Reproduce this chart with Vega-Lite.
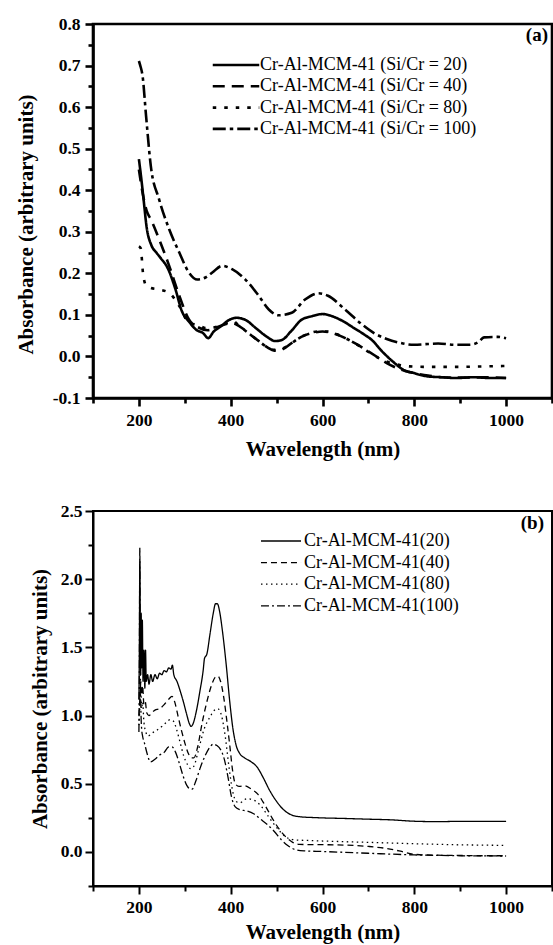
{
  "$schema": "https://vega.github.io/schema/vega-lite/v6.json",
  "background": "white",
  "padding": {"left": 13, "top": 13, "right": 0, "bottom": 0},
  "bounds": "flush",
  "spacing": 113,
  "config": {
    "font": "Liberation Serif",
    "axis": {"domainColor": "black", "tickColor": "black", "labelColor": "black", "titleColor": "black", "labelFont": "Liberation Serif", "titleFont": "Liberation Serif", "labelFontWeight": "bold", "titleFontWeight": "bold", "grid": false, "labelFlush": false, "labelOverlap": false, "labelFontSize": 17.5, "titleFontSize": 21},
    "title": {"font": "Liberation Serif", "fontWeight": "bold", "fontSize": 19, "color": "black"},
    "legend": {"labelFont": "Liberation Serif", "labelFontSize": 18, "labelColor": "black", "labelFontWeight": "normal", "labelLimit": 0, "padding": 0}
  },
  "datasets": {
    "a": [
      {"sample": 20, "nm": 200, "abs": 0.475}, {"sample": 20, "nm": 205, "abs": 0.43}, {"sample": 20, "nm": 210, "abs": 0.38}, {"sample": 20, "nm": 217, "abs": 0.31}, {"sample": 20, "nm": 227, "abs": 0.268}, {"sample": 20, "nm": 238, "abs": 0.25}, {"sample": 20, "nm": 248, "abs": 0.236}, {"sample": 20, "nm": 263, "abs": 0.212}, {"sample": 20, "nm": 279, "abs": 0.164}, {"sample": 20, "nm": 294, "abs": 0.108}, {"sample": 20, "nm": 309, "abs": 0.084}, {"sample": 20, "nm": 325, "abs": 0.064}, {"sample": 20, "nm": 340, "abs": 0.056}, {"sample": 20, "nm": 351, "abs": 0.044}, {"sample": 20, "nm": 363, "abs": 0.06}, {"sample": 20, "nm": 378, "abs": 0.072}, {"sample": 20, "nm": 397, "abs": 0.088}, {"sample": 20, "nm": 413, "abs": 0.093}, {"sample": 20, "nm": 432, "abs": 0.088}, {"sample": 20, "nm": 455, "abs": 0.068}, {"sample": 20, "nm": 478, "abs": 0.048}, {"sample": 20, "nm": 497, "abs": 0.037}, {"sample": 20, "nm": 512, "abs": 0.04}, {"sample": 20, "nm": 531, "abs": 0.06}, {"sample": 20, "nm": 554, "abs": 0.088}, {"sample": 20, "nm": 577, "abs": 0.097}, {"sample": 20, "nm": 600, "abs": 0.102}, {"sample": 20, "nm": 623, "abs": 0.096}, {"sample": 20, "nm": 646, "abs": 0.084}, {"sample": 20, "nm": 669, "abs": 0.068}, {"sample": 20, "nm": 692, "abs": 0.052}, {"sample": 20, "nm": 707, "abs": 0.04}, {"sample": 20, "nm": 730, "abs": 0.012}, {"sample": 20, "nm": 753, "abs": -0.012}, {"sample": 20, "nm": 776, "abs": -0.032}, {"sample": 20, "nm": 799, "abs": -0.04}, {"sample": 20, "nm": 829, "abs": -0.048}, {"sample": 20, "nm": 860, "abs": -0.05}, {"sample": 20, "nm": 891, "abs": -0.052}, {"sample": 20, "nm": 929, "abs": -0.05}, {"sample": 20, "nm": 967, "abs": -0.052}, {"sample": 20, "nm": 1000, "abs": -0.052},
      {"sample": 40, "nm": 200, "abs": 0.45}, {"sample": 40, "nm": 208, "abs": 0.394}, {"sample": 40, "nm": 217, "abs": 0.35}, {"sample": 40, "nm": 226, "abs": 0.33}, {"sample": 40, "nm": 244, "abs": 0.282}, {"sample": 40, "nm": 266, "abs": 0.218}, {"sample": 40, "nm": 288, "abs": 0.146}, {"sample": 40, "nm": 309, "abs": 0.089}, {"sample": 40, "nm": 331, "abs": 0.069}, {"sample": 40, "nm": 350, "abs": 0.063}, {"sample": 40, "nm": 370, "abs": 0.07}, {"sample": 40, "nm": 390, "abs": 0.078}, {"sample": 40, "nm": 405, "abs": 0.08}, {"sample": 40, "nm": 420, "abs": 0.072}, {"sample": 40, "nm": 440, "abs": 0.055}, {"sample": 40, "nm": 460, "abs": 0.038}, {"sample": 40, "nm": 480, "abs": 0.022}, {"sample": 40, "nm": 495, "abs": 0.014}, {"sample": 40, "nm": 505, "abs": 0.014}, {"sample": 40, "nm": 520, "abs": 0.022}, {"sample": 40, "nm": 540, "abs": 0.038}, {"sample": 40, "nm": 560, "abs": 0.05}, {"sample": 40, "nm": 580, "abs": 0.057}, {"sample": 40, "nm": 600, "abs": 0.06}, {"sample": 40, "nm": 620, "abs": 0.057}, {"sample": 40, "nm": 640, "abs": 0.049}, {"sample": 40, "nm": 660, "abs": 0.038}, {"sample": 40, "nm": 680, "abs": 0.026}, {"sample": 40, "nm": 700, "abs": 0.012}, {"sample": 40, "nm": 720, "abs": -0.002}, {"sample": 40, "nm": 740, "abs": -0.016}, {"sample": 40, "nm": 760, "abs": -0.027}, {"sample": 40, "nm": 780, "abs": -0.035}, {"sample": 40, "nm": 800, "abs": -0.04}, {"sample": 40, "nm": 830, "abs": -0.046}, {"sample": 40, "nm": 860, "abs": -0.05}, {"sample": 40, "nm": 900, "abs": -0.051}, {"sample": 40, "nm": 950, "abs": -0.05}, {"sample": 40, "nm": 1000, "abs": -0.052},
      {"sample": 80, "nm": 200, "abs": 0.265}, {"sample": 80, "nm": 204, "abs": 0.26}, {"sample": 80, "nm": 209, "abs": 0.2}, {"sample": 80, "nm": 215, "abs": 0.172}, {"sample": 80, "nm": 225, "abs": 0.165}, {"sample": 80, "nm": 244, "abs": 0.161}, {"sample": 80, "nm": 266, "abs": 0.153}, {"sample": 80, "nm": 288, "abs": 0.121}, {"sample": 80, "nm": 309, "abs": 0.081}, {"sample": 80, "nm": 330, "abs": 0.075}, {"sample": 80, "nm": 346, "abs": 0.068}, {"sample": 80, "nm": 365, "abs": 0.07}, {"sample": 80, "nm": 385, "abs": 0.078}, {"sample": 80, "nm": 405, "abs": 0.085}, {"sample": 80, "nm": 420, "abs": 0.072}, {"sample": 80, "nm": 440, "abs": 0.055}, {"sample": 80, "nm": 460, "abs": 0.038}, {"sample": 80, "nm": 480, "abs": 0.022}, {"sample": 80, "nm": 495, "abs": 0.016}, {"sample": 80, "nm": 510, "abs": 0.018}, {"sample": 80, "nm": 530, "abs": 0.03}, {"sample": 80, "nm": 550, "abs": 0.045}, {"sample": 80, "nm": 570, "abs": 0.055}, {"sample": 80, "nm": 590, "abs": 0.06}, {"sample": 80, "nm": 610, "abs": 0.06}, {"sample": 80, "nm": 630, "abs": 0.054}, {"sample": 80, "nm": 650, "abs": 0.044}, {"sample": 80, "nm": 670, "abs": 0.032}, {"sample": 80, "nm": 690, "abs": 0.018}, {"sample": 80, "nm": 710, "abs": 0.004}, {"sample": 80, "nm": 730, "abs": -0.008}, {"sample": 80, "nm": 750, "abs": -0.016}, {"sample": 80, "nm": 770, "abs": -0.021}, {"sample": 80, "nm": 790, "abs": -0.024}, {"sample": 80, "nm": 820, "abs": -0.025}, {"sample": 80, "nm": 860, "abs": -0.025}, {"sample": 80, "nm": 900, "abs": -0.025}, {"sample": 80, "nm": 950, "abs": -0.024}, {"sample": 80, "nm": 1000, "abs": -0.023},
      {"sample": 100, "nm": 200, "abs": 0.711}, {"sample": 100, "nm": 203, "abs": 0.7}, {"sample": 100, "nm": 208, "abs": 0.675}, {"sample": 100, "nm": 215.6, "abs": 0.579}, {"sample": 100, "nm": 226, "abs": 0.458}, {"sample": 100, "nm": 244, "abs": 0.378}, {"sample": 100, "nm": 266, "abs": 0.306}, {"sample": 100, "nm": 288, "abs": 0.25}, {"sample": 100, "nm": 309, "abs": 0.202}, {"sample": 100, "nm": 327, "abs": 0.185}, {"sample": 100, "nm": 345, "abs": 0.19}, {"sample": 100, "nm": 360, "abs": 0.202}, {"sample": 100, "nm": 381, "abs": 0.218}, {"sample": 100, "nm": 403, "abs": 0.21}, {"sample": 100, "nm": 432, "abs": 0.185}, {"sample": 100, "nm": 461, "abs": 0.146}, {"sample": 100, "nm": 483, "abs": 0.113}, {"sample": 100, "nm": 504, "abs": 0.099}, {"sample": 100, "nm": 533, "abs": 0.105}, {"sample": 100, "nm": 562, "abs": 0.137}, {"sample": 100, "nm": 591, "abs": 0.152}, {"sample": 100, "nm": 612, "abs": 0.146}, {"sample": 100, "nm": 649, "abs": 0.113}, {"sample": 100, "nm": 685, "abs": 0.078}, {"sample": 100, "nm": 714, "abs": 0.055}, {"sample": 100, "nm": 740, "abs": 0.042}, {"sample": 100, "nm": 768, "abs": 0.033}, {"sample": 100, "nm": 799, "abs": 0.028}, {"sample": 100, "nm": 830, "abs": 0.03}, {"sample": 100, "nm": 852, "abs": 0.031}, {"sample": 100, "nm": 890, "abs": 0.028}, {"sample": 100, "nm": 921, "abs": 0.028}, {"sample": 100, "nm": 940, "abs": 0.035}, {"sample": 100, "nm": 952, "abs": 0.046}, {"sample": 100, "nm": 982, "abs": 0.047}, {"sample": 100, "nm": 1000, "abs": 0.044}
    ],
    "b": [
      {"sample": 20, "nm": 200, "abs": 1.12}, {"sample": 20, "nm": 201, "abs": 1.5}, {"sample": 20, "nm": 202, "abs": 2.13}, {"sample": 20, "nm": 203, "abs": 1.6}, {"sample": 20, "nm": 204, "abs": 1.3}, {"sample": 20, "nm": 205, "abs": 1.75}, {"sample": 20, "nm": 206, "abs": 1.35}, {"sample": 20, "nm": 207.5, "abs": 1.7}, {"sample": 20, "nm": 209, "abs": 1.25}, {"sample": 20, "nm": 211, "abs": 1.48}, {"sample": 20, "nm": 213, "abs": 1.2}, {"sample": 20, "nm": 214.5, "abs": 1.48}, {"sample": 20, "nm": 216, "abs": 1.25}, {"sample": 20, "nm": 219, "abs": 1.3}, {"sample": 20, "nm": 222, "abs": 1.23}, {"sample": 20, "nm": 226, "abs": 1.3}, {"sample": 20, "nm": 230, "abs": 1.25}, {"sample": 20, "nm": 235, "abs": 1.3}, {"sample": 20, "nm": 240, "abs": 1.27}, {"sample": 20, "nm": 245, "abs": 1.31}, {"sample": 20, "nm": 250, "abs": 1.3}, {"sample": 20, "nm": 255, "abs": 1.33}, {"sample": 20, "nm": 260, "abs": 1.32}, {"sample": 20, "nm": 265, "abs": 1.35}, {"sample": 20, "nm": 270, "abs": 1.34}, {"sample": 20, "nm": 273, "abs": 1.37}, {"sample": 20, "nm": 276, "abs": 1.3}, {"sample": 20, "nm": 283, "abs": 1.25}, {"sample": 20, "nm": 290, "abs": 1.18}, {"sample": 20, "nm": 297, "abs": 1.1}, {"sample": 20, "nm": 304, "abs": 1.01}, {"sample": 20, "nm": 310, "abs": 0.94}, {"sample": 20, "nm": 314, "abs": 0.92}, {"sample": 20, "nm": 318, "abs": 0.94}, {"sample": 20, "nm": 325, "abs": 1.03}, {"sample": 20, "nm": 333, "abs": 1.18}, {"sample": 20, "nm": 340, "abs": 1.33}, {"sample": 20, "nm": 343, "abs": 1.42}, {"sample": 20, "nm": 348, "abs": 1.45}, {"sample": 20, "nm": 355, "abs": 1.6}, {"sample": 20, "nm": 362, "abs": 1.75}, {"sample": 20, "nm": 367, "abs": 1.82}, {"sample": 20, "nm": 371, "abs": 1.82}, {"sample": 20, "nm": 376, "abs": 1.76}, {"sample": 20, "nm": 382, "abs": 1.62}, {"sample": 20, "nm": 390, "abs": 1.38}, {"sample": 20, "nm": 398, "abs": 1.1}, {"sample": 20, "nm": 405, "abs": 0.9}, {"sample": 20, "nm": 412, "abs": 0.78}, {"sample": 20, "nm": 420, "abs": 0.72}, {"sample": 20, "nm": 430, "abs": 0.69}, {"sample": 20, "nm": 445, "abs": 0.66}, {"sample": 20, "nm": 458, "abs": 0.62}, {"sample": 20, "nm": 470, "abs": 0.55}, {"sample": 20, "nm": 485, "abs": 0.45}, {"sample": 20, "nm": 500, "abs": 0.37}, {"sample": 20, "nm": 515, "abs": 0.31}, {"sample": 20, "nm": 530, "abs": 0.275}, {"sample": 20, "nm": 550, "abs": 0.258}, {"sample": 20, "nm": 580, "abs": 0.252}, {"sample": 20, "nm": 650, "abs": 0.245}, {"sample": 20, "nm": 700, "abs": 0.24}, {"sample": 20, "nm": 750, "abs": 0.235}, {"sample": 20, "nm": 800, "abs": 0.225}, {"sample": 20, "nm": 850, "abs": 0.222}, {"sample": 20, "nm": 900, "abs": 0.224}, {"sample": 20, "nm": 950, "abs": 0.224}, {"sample": 20, "nm": 1000, "abs": 0.224},
      {"sample": 40, "nm": 200, "abs": 1.0}, {"sample": 40, "nm": 202, "abs": 1.12}, {"sample": 40, "nm": 204, "abs": 1.25}, {"sample": 40, "nm": 206, "abs": 1.15}, {"sample": 40, "nm": 208, "abs": 1.22}, {"sample": 40, "nm": 211, "abs": 1.08}, {"sample": 40, "nm": 214, "abs": 1.1}, {"sample": 40, "nm": 217, "abs": 1.02}, {"sample": 40, "nm": 222, "abs": 1.0}, {"sample": 40, "nm": 228, "abs": 1.02}, {"sample": 40, "nm": 235, "abs": 1.04}, {"sample": 40, "nm": 245, "abs": 1.05}, {"sample": 40, "nm": 255, "abs": 1.08}, {"sample": 40, "nm": 265, "abs": 1.12}, {"sample": 40, "nm": 272, "abs": 1.14}, {"sample": 40, "nm": 278, "abs": 1.1}, {"sample": 40, "nm": 285, "abs": 1.0}, {"sample": 40, "nm": 292, "abs": 0.9}, {"sample": 40, "nm": 300, "abs": 0.8}, {"sample": 40, "nm": 308, "abs": 0.72}, {"sample": 40, "nm": 315, "abs": 0.69}, {"sample": 40, "nm": 320, "abs": 0.69}, {"sample": 40, "nm": 328, "abs": 0.77}, {"sample": 40, "nm": 338, "abs": 0.95}, {"sample": 40, "nm": 348, "abs": 1.1}, {"sample": 40, "nm": 358, "abs": 1.22}, {"sample": 40, "nm": 366, "abs": 1.28}, {"sample": 40, "nm": 372, "abs": 1.29}, {"sample": 40, "nm": 378, "abs": 1.25}, {"sample": 40, "nm": 385, "abs": 1.13}, {"sample": 40, "nm": 392, "abs": 0.95}, {"sample": 40, "nm": 398, "abs": 0.78}, {"sample": 40, "nm": 404, "abs": 0.6}, {"sample": 40, "nm": 410, "abs": 0.5}, {"sample": 40, "nm": 418, "abs": 0.48}, {"sample": 40, "nm": 430, "abs": 0.485}, {"sample": 40, "nm": 445, "abs": 0.46}, {"sample": 40, "nm": 460, "abs": 0.42}, {"sample": 40, "nm": 475, "abs": 0.34}, {"sample": 40, "nm": 490, "abs": 0.25}, {"sample": 40, "nm": 505, "abs": 0.17}, {"sample": 40, "nm": 520, "abs": 0.11}, {"sample": 40, "nm": 535, "abs": 0.07}, {"sample": 40, "nm": 550, "abs": 0.055}, {"sample": 40, "nm": 600, "abs": 0.053}, {"sample": 40, "nm": 650, "abs": 0.05}, {"sample": 40, "nm": 700, "abs": 0.04}, {"sample": 40, "nm": 740, "abs": 0.025}, {"sample": 40, "nm": 770, "abs": 0.005}, {"sample": 40, "nm": 800, "abs": -0.018}, {"sample": 40, "nm": 850, "abs": -0.024}, {"sample": 40, "nm": 900, "abs": -0.026}, {"sample": 40, "nm": 950, "abs": -0.028}, {"sample": 40, "nm": 1000, "abs": -0.028},
      {"sample": 80, "nm": 200, "abs": 0.93}, {"sample": 80, "nm": 202, "abs": 1.05}, {"sample": 80, "nm": 204, "abs": 1.2}, {"sample": 80, "nm": 206, "abs": 1.05}, {"sample": 80, "nm": 208, "abs": 1.1}, {"sample": 80, "nm": 211, "abs": 0.95}, {"sample": 80, "nm": 215, "abs": 0.88}, {"sample": 80, "nm": 220, "abs": 0.85}, {"sample": 80, "nm": 228, "abs": 0.87}, {"sample": 80, "nm": 238, "abs": 0.89}, {"sample": 80, "nm": 250, "abs": 0.92}, {"sample": 80, "nm": 260, "abs": 0.95}, {"sample": 80, "nm": 268, "abs": 0.97}, {"sample": 80, "nm": 275, "abs": 0.96}, {"sample": 80, "nm": 282, "abs": 0.9}, {"sample": 80, "nm": 290, "abs": 0.8}, {"sample": 80, "nm": 298, "abs": 0.7}, {"sample": 80, "nm": 306, "abs": 0.64}, {"sample": 80, "nm": 313, "abs": 0.61}, {"sample": 80, "nm": 320, "abs": 0.63}, {"sample": 80, "nm": 330, "abs": 0.75}, {"sample": 80, "nm": 342, "abs": 0.9}, {"sample": 80, "nm": 355, "abs": 0.99}, {"sample": 80, "nm": 365, "abs": 1.04}, {"sample": 80, "nm": 372, "abs": 1.05}, {"sample": 80, "nm": 380, "abs": 1.0}, {"sample": 80, "nm": 388, "abs": 0.85}, {"sample": 80, "nm": 396, "abs": 0.63}, {"sample": 80, "nm": 404, "abs": 0.45}, {"sample": 80, "nm": 412, "abs": 0.37}, {"sample": 80, "nm": 420, "abs": 0.36}, {"sample": 80, "nm": 435, "abs": 0.39}, {"sample": 80, "nm": 450, "abs": 0.38}, {"sample": 80, "nm": 465, "abs": 0.34}, {"sample": 80, "nm": 480, "abs": 0.27}, {"sample": 80, "nm": 495, "abs": 0.2}, {"sample": 80, "nm": 510, "abs": 0.14}, {"sample": 80, "nm": 525, "abs": 0.1}, {"sample": 80, "nm": 540, "abs": 0.088}, {"sample": 80, "nm": 560, "abs": 0.085}, {"sample": 80, "nm": 600, "abs": 0.08}, {"sample": 80, "nm": 700, "abs": 0.07}, {"sample": 80, "nm": 800, "abs": 0.06}, {"sample": 80, "nm": 900, "abs": 0.052}, {"sample": 80, "nm": 1000, "abs": 0.048},
      {"sample": 100, "nm": 200, "abs": 0.88}, {"sample": 100, "nm": 201, "abs": 1.3}, {"sample": 100, "nm": 202, "abs": 2.23}, {"sample": 100, "nm": 203, "abs": 1.4}, {"sample": 100, "nm": 204, "abs": 1.1}, {"sample": 100, "nm": 206, "abs": 0.9}, {"sample": 100, "nm": 208, "abs": 0.85}, {"sample": 100, "nm": 212, "abs": 0.8}, {"sample": 100, "nm": 218, "abs": 0.72}, {"sample": 100, "nm": 225, "abs": 0.66}, {"sample": 100, "nm": 235, "abs": 0.68}, {"sample": 100, "nm": 245, "abs": 0.71}, {"sample": 100, "nm": 255, "abs": 0.73}, {"sample": 100, "nm": 265, "abs": 0.77}, {"sample": 100, "nm": 272, "abs": 0.77}, {"sample": 100, "nm": 280, "abs": 0.73}, {"sample": 100, "nm": 288, "abs": 0.65}, {"sample": 100, "nm": 296, "abs": 0.56}, {"sample": 100, "nm": 304, "abs": 0.49}, {"sample": 100, "nm": 310, "abs": 0.465}, {"sample": 100, "nm": 316, "abs": 0.46}, {"sample": 100, "nm": 324, "abs": 0.52}, {"sample": 100, "nm": 334, "abs": 0.62}, {"sample": 100, "nm": 345, "abs": 0.71}, {"sample": 100, "nm": 355, "abs": 0.77}, {"sample": 100, "nm": 362, "abs": 0.79}, {"sample": 100, "nm": 370, "abs": 0.78}, {"sample": 100, "nm": 378, "abs": 0.75}, {"sample": 100, "nm": 386, "abs": 0.68}, {"sample": 100, "nm": 394, "abs": 0.55}, {"sample": 100, "nm": 402, "abs": 0.4}, {"sample": 100, "nm": 410, "abs": 0.33}, {"sample": 100, "nm": 420, "abs": 0.31}, {"sample": 100, "nm": 435, "abs": 0.3}, {"sample": 100, "nm": 450, "abs": 0.28}, {"sample": 100, "nm": 465, "abs": 0.24}, {"sample": 100, "nm": 480, "abs": 0.2}, {"sample": 100, "nm": 495, "abs": 0.15}, {"sample": 100, "nm": 510, "abs": 0.09}, {"sample": 100, "nm": 525, "abs": 0.045}, {"sample": 100, "nm": 540, "abs": 0.018}, {"sample": 100, "nm": 560, "abs": 0.008}, {"sample": 100, "nm": 600, "abs": 0.003}, {"sample": 100, "nm": 700, "abs": -0.01}, {"sample": 100, "nm": 800, "abs": -0.022}, {"sample": 100, "nm": 900, "abs": -0.028}, {"sample": 100, "nm": 1000, "abs": -0.03}
    ]
  },
  "resolve": {"scale": {"strokeDash": "independent"}, "legend": {"strokeDash": "independent"}},
  "vconcat": [
    {
      "width": 459,
      "height": 374,
      "view": {"stroke": "black", "strokeWidth": 2.6},
      "title": {"text": "(a)", "anchor": "end", "frame": "group", "orient": "top", "offset": -39, "dx": -4, "baseline": "middle"},
      "data": {"name": "a"},
      "mark": {"type": "line", "interpolate": "monotone", "strokeWidth": 2.6, "color": "black", "clip": true},
      "encoding": {
        "x": {"field": "nm", "type": "quantitative", "scale": {"domain": [100, 1100], "nice": false, "zero": false},
          "axis": {"values": [100, 200, 300, 400, 500, 600, 700, 800, 900, 1000, 1100], "format": "d",
            "labelExpr": "datum.value % 200 == 0 && datum.value >= 200 && datum.value <= 1000 ? datum.label : ''",
            "tickSize": {"condition": {"test": "datum.value % 200 == 0", "value": 8}, "value": 5},
            "tickWidth": 2.6, "domainWidth": 2.6, "labelPadding": 5, "title": "Wavelength (nm)", "titlePadding": 10}},
        "y": {"field": "abs", "type": "quantitative", "scale": {"domain": [-0.1, 0.8], "nice": false, "zero": false},
          "axis": {"values": [-0.1, -0.05, 0, 0.05, 0.1, 0.15, 0.2, 0.25, 0.3, 0.35, 0.4, 0.45, 0.5, 0.55, 0.6, 0.65, 0.7, 0.75, 0.8],
            "labelExpr": "abs(round(datum.value*100)) % 10 == 0 ? (datum.value < 0 ? '-' + format(-datum.value, '.1f') : format(datum.value, '.1f')) : ''",
            "tickSize": {"condition": {"test": "abs(round(datum.value*100)) % 10 == 0", "value": 8}, "value": 5},
            "tickWidth": 2.6, "domainWidth": 2.6, "labelPadding": 5, "title": "Absorbance (arbitrary units)", "titlePadding": 16, "titleY": 200}},
        "strokeDash": {"field": "sample", "type": "nominal",
          "scale": {"domain": [20, 40, 80, 100], "range": [[1, 0], [12, 7], [3.5, 8], [13, 4, 3.5, 4]]},
          "legend": {"orient": "none", "legendX": 134, "legendY": 32, "title": null, "symbolType": "M-3.1,0H3.1", "symbolSize": 225, "symbolStrokeWidth": 2.6, "symbolStrokeColor": "black", "symbolFillColor": "transparent", "rowPadding": 3.3, "labelOffset": 15,
            "labelExpr": "'Cr-Al-MCM-41 (Si/Cr = ' + datum.label + ')'"}}
      }
    },
    {
      "width": 459,
      "height": 375,
      "view": {"stroke": "black", "strokeWidth": 2},
      "title": {"text": "(b)", "anchor": "end", "frame": "group", "orient": "top", "offset": -40, "dx": -8, "baseline": "middle"},
      "data": {"name": "b"},
      "mark": {"type": "line", "interpolate": "monotone", "strokeWidth": 1.3, "color": "black", "clip": true},
      "encoding": {
        "x": {"field": "nm", "type": "quantitative", "scale": {"domain": [100, 1100], "nice": false, "zero": false},
          "axis": {"values": [100, 200, 300, 400, 500, 600, 700, 800, 900, 1000, 1100], "format": "d",
            "labelExpr": "datum.value % 200 == 0 && datum.value >= 200 && datum.value <= 1000 ? datum.label : ''",
            "tickSize": {"condition": {"test": "datum.value % 200 == 0", "value": 8}, "value": 5},
            "tickWidth": 2, "domainWidth": 2, "labelPadding": 4, "title": "Wavelength (nm)", "titlePadding": 6}},
        "y": {"field": "abs", "type": "quantitative", "scale": {"domain": [-0.25, 2.5], "nice": false, "zero": false},
          "axis": {"values": [-0.25, 0, 0.25, 0.5, 0.75, 1, 1.25, 1.5, 1.75, 2, 2.25, 2.5],
            "labelExpr": "round(datum.value*100) % 50 == 0 ? format(datum.value, '.1f') : ''",
            "tickSize": {"condition": {"test": "round(datum.value*100) % 50 == 0", "value": 8}, "value": 5},
            "tickWidth": 2, "domainWidth": 2, "labelPadding": 3, "title": "Absorbance (arbitrary units)", "titlePadding": 10}},
        "strokeDash": {"field": "sample", "type": "nominal",
          "scale": {"domain": [20, 40, 80, 100], "range": [[1, 0], [6, 4], [1.5, 3.5], [8, 3, 2, 3]]},
          "legend": {"orient": "none", "legendX": 179, "legendY": 21, "title": null, "symbolType": "M-2.67,0H2.67", "symbolSize": 225, "symbolStrokeWidth": 1.3, "symbolStrokeColor": "black", "symbolFillColor": "transparent", "rowPadding": 3.6, "labelOffset": 14,
            "labelExpr": "'Cr-Al-MCM-41(' + datum.label + ')'"}}
      }
    }
  ]
}
